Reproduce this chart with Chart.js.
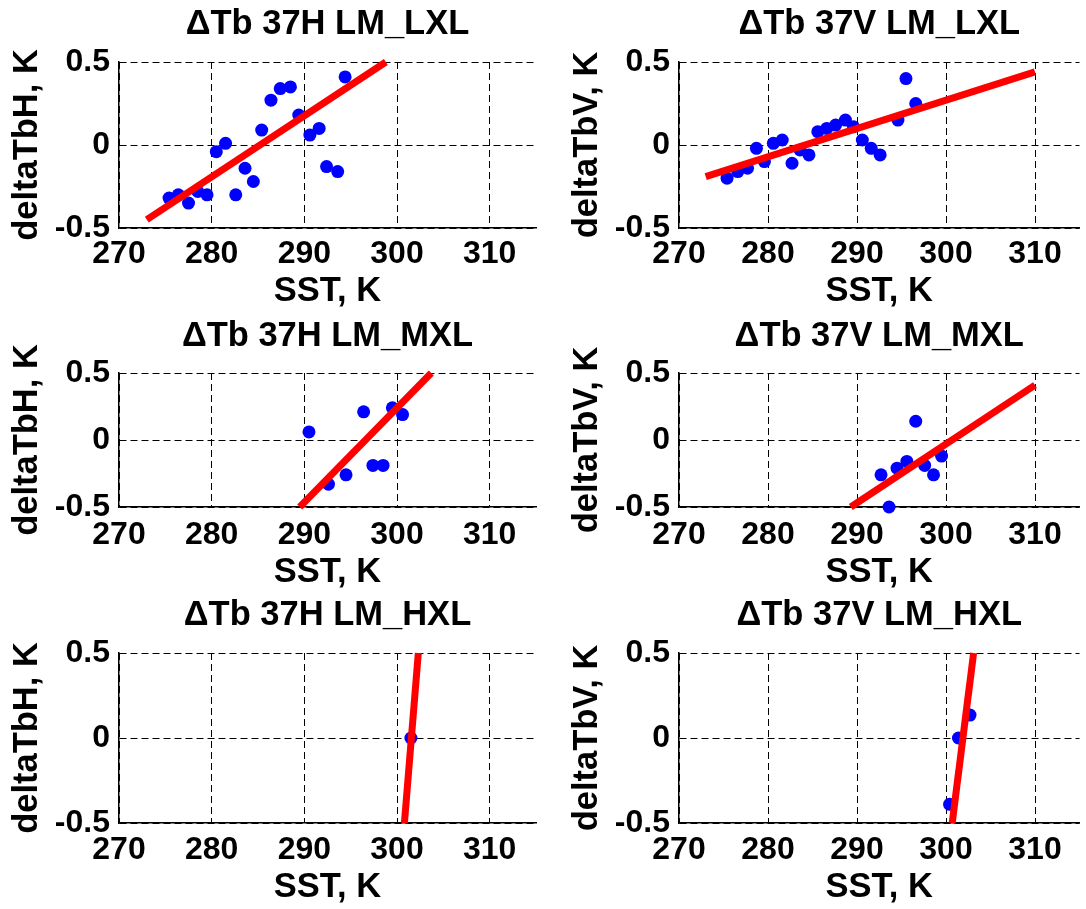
<!DOCTYPE html>
<html>
<head>
<meta charset="utf-8">
<script src="https://cdn.jsdelivr.net/npm/chart.js@4/dist/chart.umd.min.js"></script>
<style>
  html, body { margin: 0; padding: 0; background: #fff; }
  body { width: 1086px; height: 909px; position: relative; overflow: hidden; }
  canvas { position: absolute; }
</style>
</head>
<body>
<canvas id="c1"></canvas>
<canvas id="c2"></canvas>
<canvas id="c3"></canvas>
<canvas id="c4"></canvas>
<canvas id="c5"></canvas>
<canvas id="c6"></canvas>
<script>
// ticks shared by all six panels
var sstTicks = [270, 280, 290, 300, 310];
var dtbTicks = [-0.5, 0, 0.5];

// 37H LM_LXL
var sstH_LXL = [275.4, 276.4, 277.5, 278.5, 279.5, 280.5, 281.5, 282.6, 283.6, 284.5, 285.4, 286.4, 287.4, 288.5, 289.4, 290.6, 291.6, 292.4, 293.6, 294.4];
var dtbH_LXL = [-0.32, -0.30, -0.35, -0.28, -0.30, -0.04, 0.01, -0.30, -0.14, -0.22, 0.09, 0.27, 0.34, 0.35, 0.18, 0.06, 0.10, -0.13, -0.16, 0.41];
var fitSstH_LXL = [273, 298.8];
var fitDtbH_LXL = [-0.45, 0.5];

// 37V LM_LXL
var sstV_LXL = [275.4, 276.6, 277.7, 278.7, 279.6, 280.6, 281.6, 282.7, 283.6, 284.6, 285.6, 286.6, 287.6, 288.7, 289.6, 290.6, 291.6, 292.6, 294.6, 295.5, 296.6];
var dtbV_LXL = [-0.20, -0.16, -0.14, -0.02, -0.10, 0.01, 0.03, -0.11, -0.03, -0.06, 0.08, 0.10, 0.12, 0.15, 0.11, 0.03, -0.02, -0.06, 0.15, 0.40, 0.25];
var fitSstV_LXL = [273, 310];
var fitDtbV_LXL = [-0.19, 0.44];

// 37H LM_MXL
var sstH_MXL = [290.5, 292.6, 294.5, 296.4, 297.4, 298.5, 299.5, 300.6];
var dtbH_MXL = [0.06, -0.33, -0.26, 0.21, -0.19, -0.19, 0.24, 0.19];
var fitSstH_MXL = [289.5, 303.7];
var fitDtbH_MXL = [-0.5, 0.5];

// 37V LM_MXL
var sstV_MXL = [292.7, 293.6, 294.5, 295.6, 296.6, 297.6, 298.6, 299.5];
var dtbV_MXL = [-0.26, -0.50, -0.21, -0.16, 0.14, -0.19, -0.26, -0.12];
var fitSstV_MXL = [289.3, 310];
var fitDtbV_MXL = [-0.5, 0.41];

// 37H LM_HXL
var sstH_HXL = [301.5];
var dtbH_HXL = [0];
var fitSstH_HXL = [300.8, 302.3];
var fitDtbH_HXL = [-0.5, 0.5];

// 37V LM_HXL
var sstV_HXL = [300.4, 301.4, 302.7];
var dtbV_HXL = [-0.39, 0, 0.135];
var fitSstV_HXL = [300.7, 303.1];
var fitDtbV_HXL = [-0.5, 0.5];

var panels = [
    {canvas: 'c1', row: 0, col: 0, title: '\u0394Tb 37H LM_LXL', ylabel: 'deltaTbH, K', sst: sstH_LXL, dtb: dtbH_LXL, fitSst: fitSstH_LXL, fitDtb: fitDtbH_LXL},
    {canvas: 'c2', row: 0, col: 1, title: '\u0394Tb 37V LM_LXL', ylabel: 'deltaTbV, K', sst: sstV_LXL, dtb: dtbV_LXL, fitSst: fitSstV_LXL, fitDtb: fitDtbV_LXL},
    {canvas: 'c3', row: 1, col: 0, title: '\u0394Tb 37H LM_MXL', ylabel: 'deltaTbH, K', sst: sstH_MXL, dtb: dtbH_MXL, fitSst: fitSstH_MXL, fitDtb: fitDtbH_MXL},
    {canvas: 'c4', row: 1, col: 1, title: '\u0394Tb 37V LM_MXL', ylabel: 'deltaTbV, K', sst: sstV_MXL, dtb: dtbV_MXL, fitSst: fitSstV_MXL, fitDtb: fitDtbV_MXL},
    {canvas: 'c5', row: 2, col: 0, title: '\u0394Tb 37H LM_HXL', ylabel: 'deltaTbH, K', sst: sstH_HXL, dtb: dtbH_HXL, fitSst: fitSstH_HXL, fitDtb: fitDtbH_HXL},
    {canvas: 'c6', row: 2, col: 1, title: '\u0394Tb 37V LM_HXL', ylabel: 'deltaTbV, K', sst: sstV_HXL, dtb: dtbV_HXL, fitSst: fitSstV_HXL, fitDtb: fitDtbV_HXL}
];

// page layout (pixels): where each plot box sits and where its texts are centred
var cols = [
    {left: 0, width: 545, padRight: 9},
    {left: 560, width: 526, padRight: 1}
];
var rows = [
    {top: 0, bottom: 312, areaTop: 62, areaBottom: 228, titleMid: 24, tickMid: 254, labelMid: 291},
    {top: 300, bottom: 595, areaTop: 373, areaBottom: 507, titleMid: 336, tickMid: 535, labelMid: 572},
    {top: 580, bottom: 909, areaTop: 653, areaBottom: 823, titleMid: 615, tickMid: 850, labelMid: 887}
];
var Y_AXIS_W = 119;
var TITLE_SIZE = 34.5;
var TICK_SIZE = 32;
var FONT = '"Liberation Sans", Arial, Helvetica, sans-serif';

Chart.defaults.font.family = FONT;
Chart.defaults.color = '#000';

function pairs(xs, ys){
    return xs.map(function(x, i){ return {x: x, y: ys[i]}; });
}

function drawPanel(p){
    var col = cols[p.col];
    var row = rows[p.row];
    var canvas = document.getElementById(p.canvas);
    var h = row.bottom - row.top;
    canvas.width = col.width;
    canvas.height = h;
    canvas.style.left = col.left + 'px';
    canvas.style.top = row.top + 'px';

    var titleLh = TITLE_SIZE * 1.2;
    var tickLh = TICK_SIZE * 1.2;
    var titlePadTop = row.titleMid - row.top - titleLh / 2;
    var titlePadBottom = row.areaTop - row.top - titlePadTop - titleLh;
    var xAxisH = row.bottom - row.areaBottom;

    new Chart(canvas, {
        type: 'scatter',
        data: {
            datasets: [
                {
                    // fit line first so it is painted over the dots
                    label: 'fit',
                    data: pairs(p.fitSst, p.fitDtb),
                    showLine: true,
                    borderColor: '#ff0000',
                    borderWidth: 7,
                    borderCapStyle: 'butt',
                    pointRadius: 0,
                    pointHoverRadius: 0,
                    clip: false
                },
                {
                    label: 'obs',
                    data: pairs(p.sst, p.dtb),
                    backgroundColor: '#0000ff',
                    borderColor: '#0000ff',
                    borderWidth: 0,
                    pointRadius: 6.5,
                    clip: false
                }
            ]
        },
        options: {
            responsive: false,
            animation: false,
            events: [],
            layout: {padding: {left: 0, top: 0, bottom: 0, right: col.padRight}},
            plugins: {
                legend: {display: false},
                tooltip: {enabled: false},
                title: {
                    display: true,
                    text: p.title,
                    fullSize: false,
                    color: '#000',
                    font: {size: TITLE_SIZE, weight: 'bold', lineHeight: 1.2},
                    padding: {top: titlePadTop, bottom: titlePadBottom}
                }
            },
            scales: {
                x: {
                    type: 'linear',
                    min: 270,
                    max: 315,
                    afterBuildTicks: function(scale){
                        scale.ticks = sstTicks.map(function(v){ return {value: v}; });
                    },
                    afterFit: function(scale){ scale.height = xAxisH; },
                    ticks: {
                        maxRotation: 0,
                        autoSkip: false,
                        padding: row.tickMid - row.areaBottom - tickLh / 2,
                        color: '#000',
                        font: {size: TICK_SIZE, weight: 'bold', lineHeight: 1.2}
                    },
                    grid: {color: '#000', lineWidth: 1, drawTicks: false},
                    border: {display: true, color: '#000', width: 1.5, dash: [7, 4]},
                    title: {
                        display: true,
                        text: 'SST, K',
                        color: '#000',
                        font: {size: TITLE_SIZE, weight: 'bold', lineHeight: 1.2},
                        padding: {top: 0, bottom: row.bottom - row.labelMid - titleLh / 2}
                    }
                },
                y: {
                    type: 'linear',
                    min: -0.5,
                    max: 0.5,
                    afterBuildTicks: function(scale){
                        scale.ticks = dtbTicks.map(function(v){ return {value: v}; });
                    },
                    afterFit: function(scale){ scale.width = Y_AXIS_W; },
                    ticks: {
                        padding: 9,
                        color: '#000',
                        font: {size: TICK_SIZE, weight: 'bold', lineHeight: 1.2}
                    },
                    grid: {color: '#000', lineWidth: 1, drawTicks: false},
                    border: {display: true, color: '#000', width: 1.5, dash: [7, 4]},
                    title: {
                        display: true,
                        text: p.ylabel,
                        color: '#000',
                        font: {size: TITLE_SIZE, weight: 'bold', lineHeight: 1.2},
                        padding: {top: 27 - titleLh / 2, bottom: 0}
                    }
                }
            }
        }
    });
}

panels.forEach(drawPanel);
</script>
</body>
</html>
